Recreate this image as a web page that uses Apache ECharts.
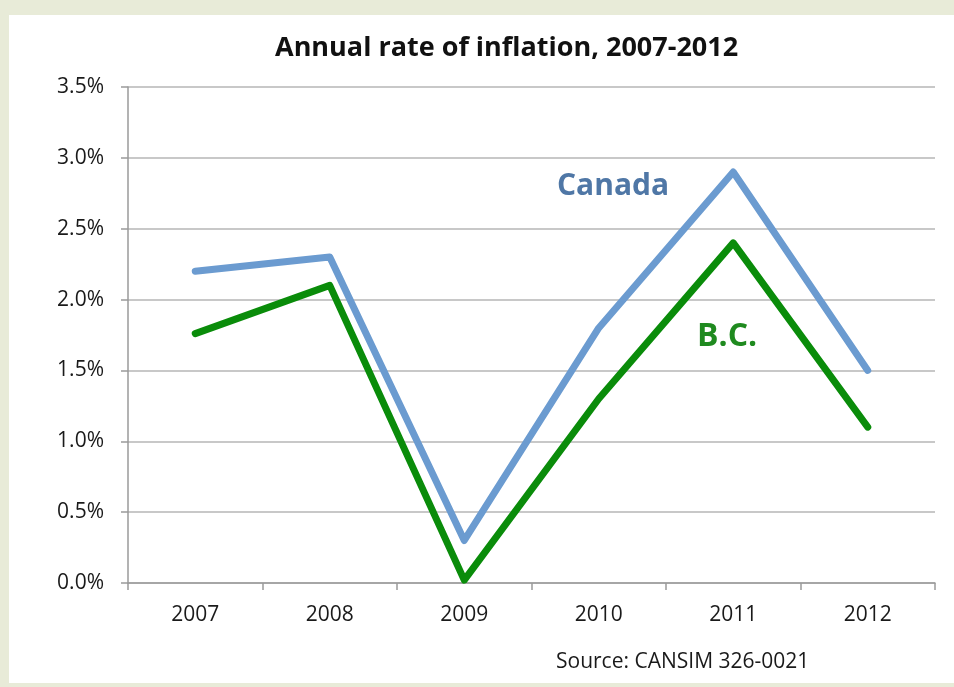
<!DOCTYPE html>
<html>
<head>
<meta charset="utf-8">
<title>Annual rate of inflation, 2007-2012</title>
<script src="https://cdn.jsdelivr.net/npm/echarts@6/dist/echarts.min.js"></script>
<style>
  html, body { margin: 0; padding: 0; background: #e8ebd8; }
  #chart { width: 954px; height: 687px; }
</style>
</head>
<body>
<div id="chart"></div>
<script>
// Annual CPI change, per cent
const years = ['2007', '2008', '2009', '2010', '2011', '2012'];
const canada = [2.2, 2.3, 0.3, 1.8, 2.9, 1.5];
const bc = [1.76, 2.1, 0.02, 1.3, 2.4, 1.1];
const yTicks = { min: 0, max: 3.5, step: 0.5 };

const FONT = '"Open Sans", Lato, sans-serif';
const chart = echarts.init(document.getElementById('chart'), null, { renderer: 'canvas' });

chart.setOption({
  animation: false,
  backgroundColor: '#e8ebd8',
  graphic: [
    { type: 'rect', z: -10, shape: { x: 9, y: 15, width: 945, height: 668 }, style: { fill: '#ffffff' } },
    { type: 'text', left: 557, top: 171, style: { text: 'Canada', fill: '#4f77a6', font: 'bold 30px ' + FONT } },
    { type: 'text', left: 697, top: 321, style: { text: 'B.C.', fill: '#1f8a1f', font: 'bold 32px ' + FONT } },
    { type: 'text', left: 556, top: 652, style: { text: 'Source: CANSIM 326-0021', fill: '#1a1a1a', font: '21px ' + FONT } }
  ],
  title: {
    text: 'Annual rate of inflation, 2007-2012',
    left: 270,
    top: 30,
    textStyle: { fontFamily: FONT, fontWeight: 'bold', fontSize: 27, color: '#111111' }
  },
  grid: { left: 128, right: 19, top: 87, bottom: 104, containLabel: false },
  xAxis: {
    type: 'category',
    data: years,
    boundaryGap: true,
    axisLine: { lineStyle: { color: '#9a9a9a', width: 1.5 } },
    axisTick: { show: true, length: 7, lineStyle: { color: '#9a9a9a', width: 1.5 } },
    axisLabel: { fontFamily: FONT, fontSize: 21, color: '#1a1a1a', margin: 22 }
  },
  yAxis: {
    type: 'value',
    min: yTicks.min,
    max: yTicks.max,
    interval: yTicks.step,
    axisLine: { show: true, lineStyle: { color: '#9a9a9a', width: 1.5 } },
    axisTick: { show: true, length: 7, lineStyle: { color: '#9a9a9a', width: 1.5 } },
    splitLine: { lineStyle: { color: '#c8c8c8', width: 2 } },
    axisLabel: {
      fontFamily: FONT, fontSize: 21, color: '#1a1a1a', margin: 24,
      formatter: v => v.toFixed(1) + '%'
    }
  },
  series: [
    {
      name: 'Canada', type: 'line', data: canada,
      symbol: 'none',
      lineStyle: { color: '#6b9bd0', width: 7, join: 'round', cap: 'round' }
    },
    {
      name: 'B.C.', type: 'line', data: bc,
      symbol: 'none',
      lineStyle: { color: '#0a8c0a', width: 7, join: 'round', cap: 'round' }
    }
  ]
});
</script>
</body>
</html>
